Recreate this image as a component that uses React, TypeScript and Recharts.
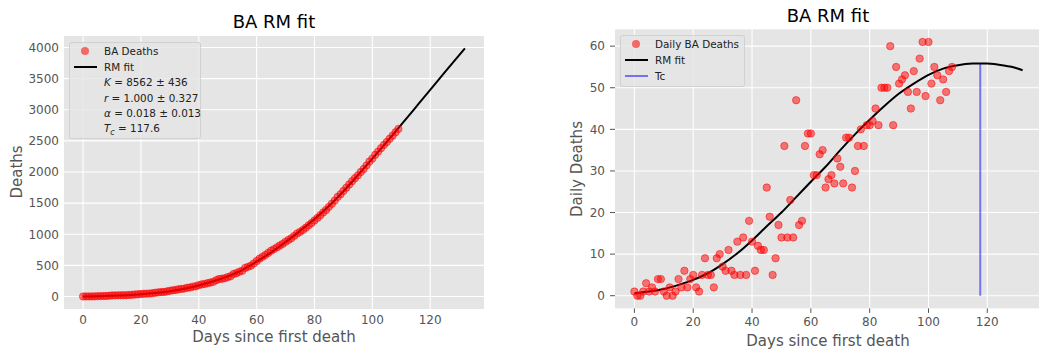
import React from 'react'
import { ComposedChart, Scatter, Line, XAxis, YAxis, CartesianGrid, ReferenceLine } from 'recharts'

// cumulative deaths, one per day since first death (day = index)
const cumulativeDeaths = [
  1, 2, 2, 2, 3, 6, 7, 9, 10, 14, 18, 19, 19, 21, 21, 22, 26, 28, 34, 36,
  40, 45, 47, 48, 53, 62, 67, 72, 74, 83, 93, 100, 106, 117, 123, 128, 141, 146, 160, 165,
  183, 196, 202, 214, 225, 236, 262, 281, 286, 295, 312, 326, 362, 376, 399, 413, 460, 477, 495, 531,
  570, 609, 638, 667, 701, 736, 762, 790, 819, 846, 879, 910, 937, 975, 1013, 1039, 1069, 1105, 1145, 1181,
  1222, 1263, 1305, 1350, 1391, 1441, 1491, 1541, 1601, 1642, 1697, 1748, 1800, 1853, 1902, 1947, 2001, 2050, 2107, 2168,
  2216, 2277, 2328, 2383, 2436, 2483, 2535, 2584, 2638, 2693,
]

// daily deaths (day = index)
const dailyDeaths = [
  1, 0, 0, 1, 3, 1, 2, 1, 4, 4, 1, 0, 2, 0, 1, 4, 2, 6, 2, 4,
  5, 2, 1, 5, 9, 5, 5, 2, 9, 10, 7, 6, 11, 6, 5, 13, 5, 14, 5, 18,
  13, 6, 12, 11, 11, 26, 19, 5, 9, 17, 14, 36, 14, 23, 14, 47, 17, 18, 36, 39,
  39, 29, 29, 34, 35, 26, 28, 29, 27, 33, 31, 27, 38, 38, 26, 30, 36, 40, 36, 41,
  41, 42, 45, 41, 50, 50, 50, 60, 41, 55, 51, 52, 53, 49, 45, 54, 49, 57, 61, 48,
  61, 51, 55, 53, 47, 52, 49, 54, 55,
]

// RM fit
const cumFitDays = [0, 5, 10, 15, 20, 25, 30, 35, 40, 45, 50, 55, 60, 65, 70, 75, 80, 85, 90, 95, 100, 105, 110, 115, 120, 125, 132]
const cumFitValues = [2, 5, 12, 22, 36, 56, 85, 125, 178, 245, 325, 425, 560, 710, 875, 1055, 1245, 1455, 1690, 1950, 2215, 2485, 2760, 3040, 3320, 3600, 3985]

const dailyFitDays = [0, 5, 10, 15, 20, 25, 30, 35, 40, 45, 50, 55, 60, 65, 70, 75, 80, 85, 90, 95, 100, 105, 110, 115, 117.6, 120, 125, 130, 132]
const dailyFitValues = [0.6, 1.0, 1.6, 2.6, 3.8, 5.4, 7.6, 10.2, 13.3, 16.7, 20.0, 23.7, 27.4, 31.0, 35.0, 38.8, 42.3, 45.6, 48.6, 51.0, 53.1, 54.6, 55.4, 55.8, 55.85, 55.8, 55.4, 54.7, 54.2]

const tc = 117.6
const tcPeak = 55.85

const dayTicks = [0, 20, 40, 60, 80, 100, 120]
const cumTicks = [0, 500, 1000, 1500, 2000, 2500, 3000, 3500, 4000]
const dailyTicks = [0, 10, 20, 30, 40, 50, 60]

const cumPoints = cumulativeDeaths.map((v, i) => ({ day: i, value: v }))
const dailyPoints = dailyDeaths.map((v, i) => ({ day: i, value: v }))
const cumFit = cumFitDays.map((d, i) => ({ day: d, value: cumFitValues[i] }))
const dailyFit = dailyFitDays.map((d, i) => ({ day: d, value: dailyFitValues[i] }))

const FONT = '"DejaVu Sans", sans-serif'
const tickStyle = { fontSize: 12, fill: '#555', fontFamily: FONT }

const RedDot = (p: any) => (
  <circle cx={p.cx} cy={p.cy} r={3.7} fill="red" fillOpacity={0.5} stroke="red" strokeOpacity={0.5} strokeWidth={1} />
)

const abs = (left: number, top: number, extra: React.CSSProperties = {}): React.CSSProperties => ({
  position: 'absolute', left, top, whiteSpace: 'nowrap', ...extra,
})

function LegendRow({ y, kind, children }: { y: number; kind?: 'dot' | 'black' | 'blue'; children: React.ReactNode }) {
  return (
    <>
      {kind === 'dot' && (
        <div style={abs(11, y - 4, { width: 8, height: 8, borderRadius: '50%', background: 'rgba(255,0,0,0.55)' })} />
      )}
      {kind === 'black' && <div style={abs(4, y - 1, { width: 23, height: 2, background: '#000' })} />}
      {kind === 'blue' && <div style={abs(4, y - 1, { width: 23, height: 2, background: 'rgba(0,0,255,0.5)' })} />}
      <div style={abs(34, y, { transform: 'translateY(-50%)', lineHeight: 1 })}>{children}</div>
    </>
  )
}

const legendBox: React.CSSProperties = {
  position: 'absolute',
  background: 'rgba(229,229,229,0.8)',
  border: '1px solid rgba(204,204,204,0.8)',
  borderRadius: 3,
  fontFamily: FONT,
  fontSize: 10.4,
  color: '#222',
}

export default function App() {
  return (
    <div style={{ position: 'absolute', left: 0, top: 0, width: 1039, height: 353, overflow: 'hidden', background: '#fff', fontFamily: FONT }}>
      {/* left: cumulative */}
      <div style={abs(0, 0)}>
        <ComposedChart width={490} height={353} margin={{ top: 36, right: 6, bottom: 0, left: 4 }}>
          <CartesianGrid fill="#e5e5e5" stroke="#fff" strokeWidth={1.1} horizontalValues={cumTicks} verticalValues={dayTicks} />
          <XAxis dataKey="day" type="number" domain={[-6.6, 138.6]} ticks={dayTicks} height={44}
            axisLine={false} tickLine={false} tickSize={4} tickMargin={2} tick={tickStyle} allowDataOverflow />
          <YAxis dataKey="value" type="number" domain={[-200, 4185]} ticks={cumTicks} width={60}
            axisLine={false} tickLine={false} tickSize={3} tickMargin={2} tick={tickStyle} allowDataOverflow />
          <Scatter data={cumPoints} dataKey="value" shape={RedDot} isAnimationActive={false} />
          <Line data={cumFit} dataKey="value" type="monotone" stroke="#000" strokeWidth={2} dot={false} isAnimationActive={false} />
        </ComposedChart>
      </div>
      <div style={abs(274, 21, { transform: 'translate(-50%,-50%)', fontSize: 18, color: '#000' })}>BA RM fit</div>
      <div style={abs(274, 337, { transform: 'translate(-50%,-50%)', fontSize: 15, color: '#555' })}>Days since first death</div>
      <div style={abs(17, 172, { transform: 'translate(-50%,-50%) rotate(-90deg)', fontSize: 15, color: '#555' })}>Deaths</div>
      <div style={{ ...legendBox, left: 69, top: 42, width: 130, height: 95 }}>
        <LegendRow y={8} kind="dot">BA Deaths</LegendRow>
        <LegendRow y={23.5} kind="black">RM fit</LegendRow>
        <LegendRow y={39}><i>K</i> = 8562 ± 436</LegendRow>
        <LegendRow y={54.5}><i>r</i> = 1.000 ± 0.327</LegendRow>
        <LegendRow y={70}><i>α</i> = 0.018 ± 0.013</LegendRow>
        <LegendRow y={86.5}><i>T</i><sub style={{ fontSize: 8, fontStyle: 'italic' }}>c</sub> = 117.6</LegendRow>
      </div>

      {/* right: daily */}
      <div style={abs(540, 0)}>
        <ComposedChart width={502} height={353} margin={{ top: 29.3, right: 0, bottom: 0, left: 5 }}>
          <CartesianGrid fill="#e5e5e5" stroke="#fff" strokeWidth={1.1} horizontalValues={dailyTicks} verticalValues={dayTicks} />
          <XAxis dataKey="day" type="number" domain={[-6.6, 138.6]} ticks={dayTicks} height={44.6}
            axisLine={false} tickLine={{ stroke: '#555' }} tickSize={4.5} tickMargin={4.5} tick={tickStyle} allowDataOverflow />
          <YAxis dataKey="value" type="number" domain={[-3.05, 64.05]} ticks={dailyTicks} width={70}
            axisLine={false} tickLine={{ stroke: '#555' }} tickSize={5} tickMargin={5} tick={tickStyle} allowDataOverflow />
          <Scatter data={dailyPoints} dataKey="value" shape={RedDot} isAnimationActive={false} />
          <Line data={dailyFit} dataKey="value" type="monotone" stroke="#000" strokeWidth={2} dot={false} isAnimationActive={false} />
          <ReferenceLine segment={[{ x: tc, y: 0 }, { x: tc, y: tcPeak }]} stroke="#0000ff" strokeOpacity={0.5} strokeWidth={2} />
        </ComposedChart>
      </div>
      <div style={abs(828, 15, { transform: 'translate(-50%,-50%)', fontSize: 18, color: '#000' })}>BA RM fit</div>
      <div style={abs(828, 341, { transform: 'translate(-50%,-50%)', fontSize: 15, color: '#555' })}>Days since first death</div>
      <div style={abs(577, 169, { transform: 'translate(-50%,-50%) rotate(-90deg)', fontSize: 15, color: '#555' })}>Daily Deaths</div>
      <div style={{ ...legendBox, left: 620, top: 35, width: 123, height: 50 }}>
        <LegendRow y={8} kind="dot">Daily BA Deaths</LegendRow>
        <LegendRow y={24} kind="black">RM fit</LegendRow>
        <LegendRow y={40} kind="blue">Tc</LegendRow>
      </div>
    </div>
  )
}
